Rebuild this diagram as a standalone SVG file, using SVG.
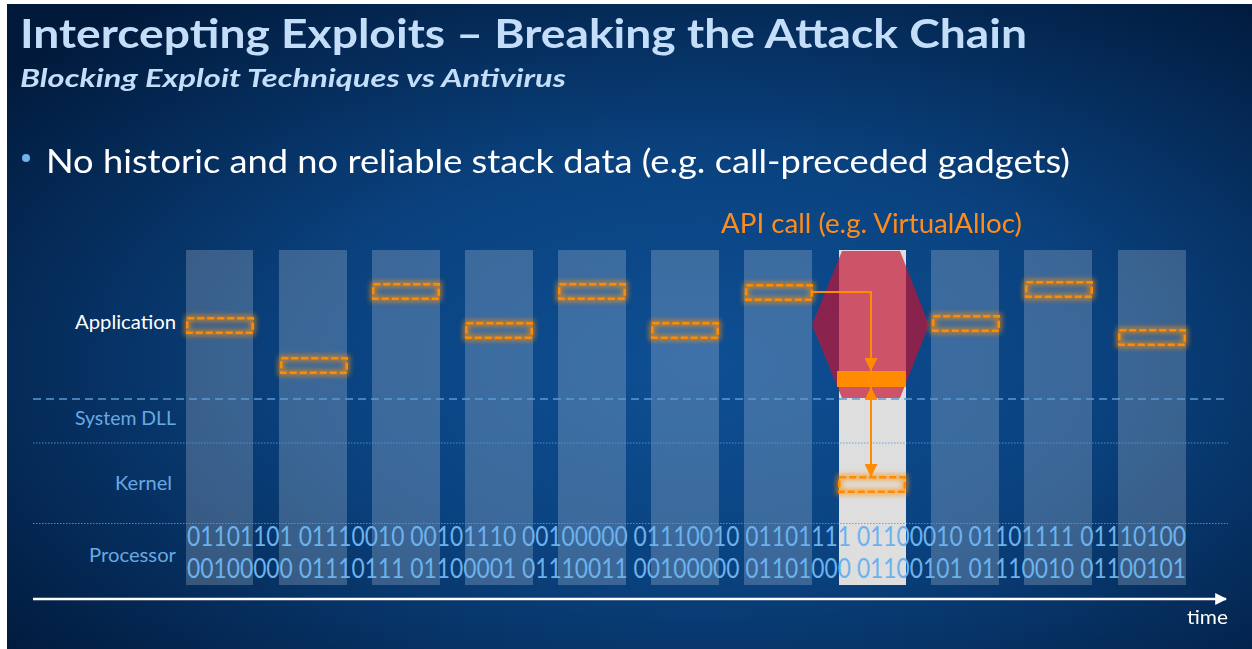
<svg xmlns="http://www.w3.org/2000/svg" xmlns:xlink="http://www.w3.org/1999/xlink" width="1252" height="649" viewBox="0 0 1252 649">
  <style>
    .sans { font-family: Lato, "Open Sans", "Liberation Sans", sans-serif; }
    .title { font-size: 41px; font-weight: bold; fill: #c4defa; }
    .subtitle { font-size: 25px; font-weight: bold; font-style: italic; fill: #c4defa; }
    .bullet { font-size: 33px; fill: #ffffff; }
    .api { font-size: 26px; fill: #ff8c1a; }
    .layer { font-size: 19px; fill: #69a9e2; }
    .layer-app { fill: #ffffff; }
    .bits { font-size: 26px; fill: #6cb2ec; }
    .slot { fill: #ffffff; fill-opacity: 0.2; }
    .slot-hit { fill: #dedede; }
    .split { fill: none; stroke: #5b9bd5; stroke-width: 1.5; stroke-dasharray: 8 5; }
    .dots { fill: none; stroke: #5b9bd5; stroke-width: 1; stroke-dasharray: 1.5 1.5; opacity: 0.85; }
    .gadget { fill: none; stroke: #ff8c00; stroke-width: 2.5; stroke-dasharray: 7 3; }
    .flow { fill: none; stroke: #ff8c00; stroke-width: 2; }
  </style>
  <defs>
    <radialGradient id="bg" cx="0.56" cy="0.56" r="0.72">
      <stop offset="0" stop-color="#0e4f94"/>
      <stop offset="0.45" stop-color="#0a427f"/>
      <stop offset="1" stop-color="#011a3c"/>
    </radialGradient>
    <filter id="glow" x="-20%" y="-60%" width="140%" height="220%">
      <feMorphology in="SourceAlpha" operator="dilate" radius="1.6" result="fat"/>
      <feGaussianBlur in="fat" stdDeviation="2.4" result="soft"/>
      <feFlood flood-color="#ff8c00" flood-opacity="0.6"/>
      <feComposite in2="soft" operator="in" result="halo"/>
      <feMerge>
        <feMergeNode in="halo"/>
        <feMergeNode in="SourceGraphic"/>
      </feMerge>
    </filter>
    <g id="gadget-shape">
      <rect class="gadget" x="1.25" y="1.25" width="65.5" height="14.5"/>
    </g>
    <marker id="tip" viewBox="0 0 10 10" refX="10" refY="5" markerWidth="6.5" markerHeight="6.5" orient="auto-start-reverse" markerUnits="strokeWidth">
      <path d="M0,0 L10,5 L0,10 Z" fill="#ff8c00"/>
    </marker>
    <marker id="time-tip" viewBox="0 0 10 10" refX="9" refY="5" markerWidth="5.2" markerHeight="5" orient="auto" markerUnits="strokeWidth">
      <path d="M0,0 L10,5 L0,10 Z" fill="#ffffff"/>
    </marker>
  </defs>

  <!-- page and slide background -->
  <rect x="0" y="0" width="1252" height="649" fill="#ffffff"/>
  <rect x="7" y="4" width="1245" height="645" fill="url(#bg)"/>

  <!-- time slots -->
  <g id="slots">
    <rect class="slot" x="186" y="250" width="67" height="335"/>
    <rect class="slot" x="279" y="250" width="68" height="335"/>
    <rect class="slot" x="372" y="250" width="68" height="335"/>
    <rect class="slot" x="465" y="250" width="68" height="335"/>
    <rect class="slot" x="558" y="250" width="68" height="335"/>
    <rect class="slot" x="651" y="250" width="68" height="335"/>
    <rect class="slot" x="744" y="250" width="68" height="335"/>
    <rect class="slot-hit" x="839" y="250" width="67" height="335"/>
    <rect class="slot" x="931" y="250" width="68" height="335"/>
    <rect class="slot" x="1024" y="250" width="68" height="335"/>
    <rect class="slot" x="1118" y="250" width="68" height="335"/>
  </g>

  <!-- interception zone around the API call -->
  <g id="intercept">
    <polygon points="842,251 900,251 929,325 900,398 842,398 812,325" fill="#c51230" fill-opacity="0.68"/>
  </g>

  <!-- layer boundaries -->
  <g id="layers">
    <line class="split" x1="33" y1="399" x2="1228" y2="399"/>
    <line class="dots" x1="33" y1="443" x2="1228" y2="443"/>
    <line class="dots" x1="33" y1="523.5" x2="1228" y2="523.5"/>
  </g>

  <!-- layer labels -->
  <g id="labels" class="sans">
    <text class="layer layer-app" x="176" y="329" text-anchor="end" textLength="101" lengthAdjust="spacingAndGlyphs">Application</text>
    <text class="layer" x="176" y="425" text-anchor="end" textLength="101" lengthAdjust="spacingAndGlyphs">System DLL</text>
    <text class="layer" x="172" y="490" text-anchor="end" textLength="57" lengthAdjust="spacingAndGlyphs">Kernel</text>
    <text class="layer" x="176" y="562" text-anchor="end" textLength="87" lengthAdjust="spacingAndGlyphs">Processor</text>
  </g>

  <!-- processor instruction stream -->
  <g id="processor-bits" class="sans">
    <text class="bits" x="187" y="546" textLength="999" lengthAdjust="spacingAndGlyphs">01101101 01110010 00101110 00100000 01110010 01101111 01100010 01101111 01110100</text>
    <text class="bits" x="187" y="578" textLength="999" lengthAdjust="spacingAndGlyphs">00100000 01110111 01100001 01110011 00100000 01101000 01100101 01110010 01100101</text>
  </g>

  <!-- gadgets (dashed, glowing) -->
  <g filter="url(#glow)">
    <g id="gadget-1"><use xlink:href="#gadget-shape" x="186" y="317"/></g>
    <g id="gadget-2"><use xlink:href="#gadget-shape" x="280" y="357"/></g>
    <g id="gadget-3"><use xlink:href="#gadget-shape" x="372" y="283"/></g>
    <g id="gadget-4"><use xlink:href="#gadget-shape" x="465" y="322"/></g>
    <g id="gadget-5"><use xlink:href="#gadget-shape" x="558" y="283"/></g>
    <g id="gadget-6"><use xlink:href="#gadget-shape" x="651" y="322"/></g>
    <g id="gadget-7"><use xlink:href="#gadget-shape" x="745" y="284"/></g>
    <g id="kernel-call"><use xlink:href="#gadget-shape" x="838" y="476"/></g>
    <g id="gadget-9"><use xlink:href="#gadget-shape" x="932" y="315"/></g>
    <g id="gadget-10"><use xlink:href="#gadget-shape" x="1025" y="281"/></g>
    <g id="gadget-11"><use xlink:href="#gadget-shape" x="1118" y="329"/></g>
  </g>

  <!-- API entry point in the system DLL -->
  <g id="api-call">
    <rect x="837" y="371" width="69" height="16" fill="#ff8c00"/>
  </g>

  <!-- call flow -->
  <g id="connectors">
    <path class="flow" d="M813,292 H871 V371" marker-end="url(#tip)"/>
    <path class="flow" d="M871,387 V477" marker-start="url(#tip)" marker-end="url(#tip)"/>
  </g>

  <!-- time axis -->
  <g id="time-axis">
    <line x1="33" y1="600" x2="1228" y2="600" stroke="#0a2a50" stroke-width="2.5" opacity="0.5"/>
    <line x1="33" y1="599" x2="1226" y2="599" stroke="#ffffff" stroke-width="2.4" marker-end="url(#time-tip)"/>
    <text class="sans" x="1228" y="624" text-anchor="end" font-size="19" fill="#ffffff" textLength="41" lengthAdjust="spacingAndGlyphs">time</text>
  </g>

  <!-- headings -->
  <g id="headings" class="sans">
    <text class="title" x="20" y="48" textLength="1007" lengthAdjust="spacingAndGlyphs">Intercepting Exploits – Breaking the Attack Chain</text>
    <text class="subtitle" x="20" y="87" textLength="546" lengthAdjust="spacingAndGlyphs">Blocking Exploit Techniques vs Antivirus</text>
    <circle cx="26" cy="158" r="4" fill="#6cb4ee"/>
    <text class="bullet" x="46" y="173" textLength="1024" lengthAdjust="spacingAndGlyphs">No historic and no reliable stack data (e.g. call-preceded gadgets)</text>
    <text class="api" x="721" y="233" textLength="301" lengthAdjust="spacingAndGlyphs">API call (e.g. VirtualAlloc)</text>
  </g>
</svg>
